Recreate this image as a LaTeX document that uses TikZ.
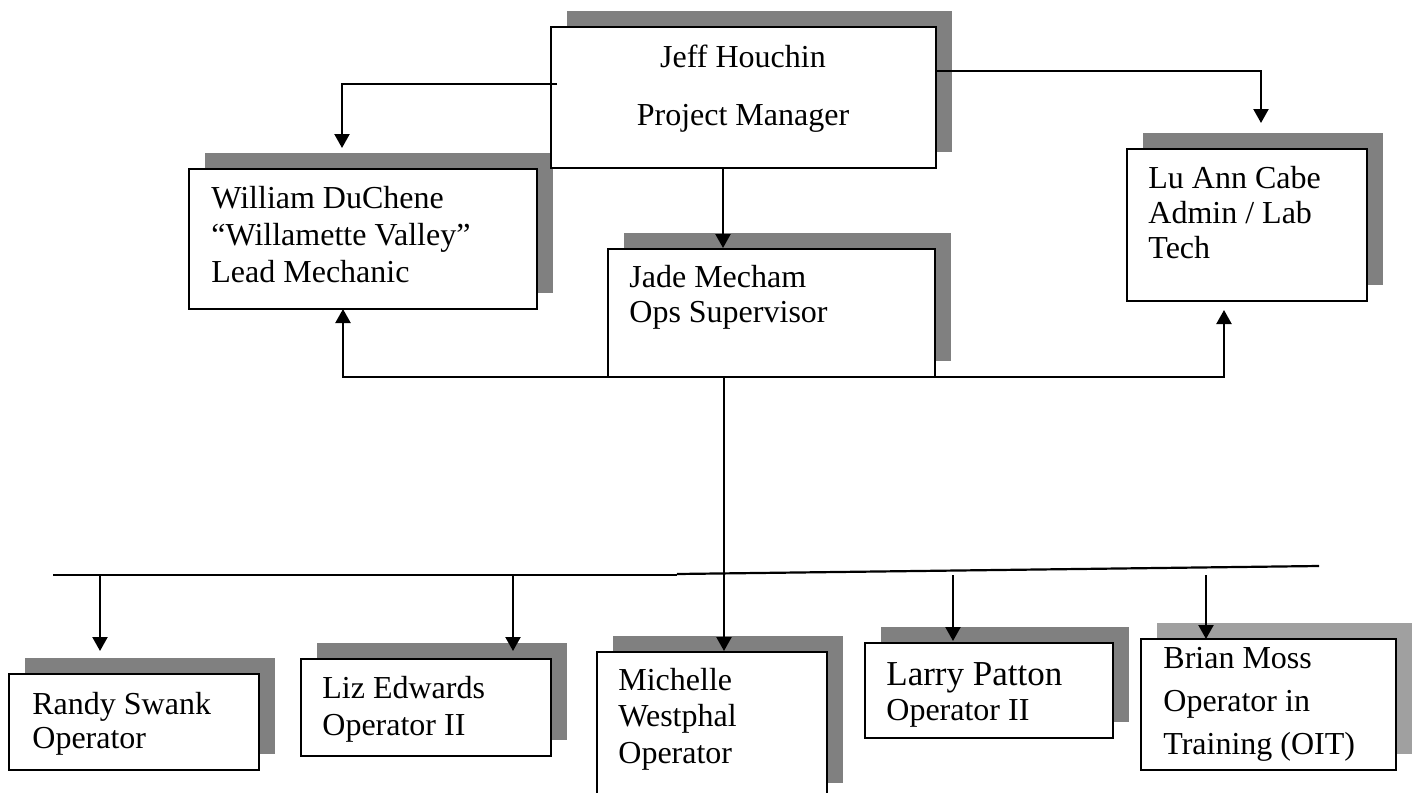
\documentclass[tikz,border=0pt]{standalone}
\usepackage{fontspec}
\setmainfont{Liberation Serif}
\usetikzlibrary{shadows,fit,arrows.meta}
\definecolor{shadowgray}{HTML}{808080}
\definecolor{lightshadow}{HTML}{A0A0A0}
\tikzset{
  box/.style={draw=black, line width=1.2pt, fill=white, inner sep=0pt,
    drop shadow={shadow xshift=8pt, shadow yshift=8pt, fill=shadowgray, opacity=1}},
  lightbox/.style={draw=black, line width=1.2pt, fill=white, inner sep=0pt,
    drop shadow={shadow xshift=8pt, shadow yshift=8pt, fill=lightshadow, opacity=1}},
  conn/.style={draw=black, line width=1.1pt},
  arr/.style={conn, -{Triangle[length=7pt,width=7.5pt]}},
  txt/.style={inner sep=0pt, anchor=base west, text width=160pt, align=flush left},
  ctxt/.style={inner sep=0pt, anchor=base},
}
\begin{document}
\begin{tikzpicture}[x=0.5pt, y=-0.5pt]
\useasboundingbox (0,0) rectangle (1415,793);
% boxes
\node[box, fit={(189,169) (537,309)}] (william) {};
\node[box, fit={(551,27) (936,168)}] (jeff) {};
\node[box, fit={(1127,149) (1367,301)}] (luann) {};
\node[box, fit={(608,249) (935,377)}] (jade) {};
\node[box, fit={(9,674) (259,770)}] (randy) {};
\node[box, fit={(301,659) (551,756)}] (liz) {};
\node[box, fit={(597,652) (827,799)}] (michelle) {};
\node[box, fit={(865,643) (1113,738)}] (larry) {};
\node[lightbox, fit={(1141,639) (1396,770)}] (brian) {};
% texts
\node[ctxt, font={\fontsize{16}{18}\selectfont}] (jeff1) at (743,67) {Jeff Houchin};
\node[ctxt, font={\fontsize{16}{18}\selectfont}] (jeff2) at (743,125) {Project Manager};
\node[txt, font={\fontsize{16}{18.5}\selectfont}] (williamt) at (211,208) {William DuChene\\“Willamette Valley”\\Lead Mechanic};
\node[txt, font={\fontsize{16}{17.5}\selectfont}] (luannt) at (1148,188) {Lu Ann Cabe\\Admin / Lab\\Tech};
\node[txt, font={\fontsize{16}{17.5}\selectfont}] (jadet) at (629,287) {Jade Mecham\\Ops Supervisor};
\node[txt, font={\fontsize{16}{17}\selectfont}] (randyt) at (32,714) {Randy Swank\\Operator};
\node[txt, font={\fontsize{16}{18.5}\selectfont}] (lizt) at (322,698) {Liz Edwards\\Operator II};
\node[txt, font={\fontsize{16}{18.25}\selectfont}] (michellet) at (618,690) {Michelle\\Westphal\\Operator};
\node[txt, font={\fontsize{17.5}{18}\selectfont}] (larryt1) at (886,685) {Larry Patton};
\node[txt, font={\fontsize{16}{18}\selectfont}] (larryt2) at (886,720) {Operator II};
\node[txt, font={\fontsize{16}{21.5}\selectfont}] (briant) at (1163,668) {Brian Moss\\Operator in\\Training (OIT)};
% connector points
\coordinate (jw0) at (557,84);
\coordinate (jwtip) at (342,148);
\coordinate (jltip) at (1261,123);
\coordinate (jjtop) at (723,168);
\coordinate (jjtip) at (723,248);
\coordinate (jbus) at (724,377);
\coordinate (wtip) at (343,309);
\coordinate (ltip) at (1224,310);
\coordinate (mtip) at (724,651);
\coordinate (busL) at (53,575);
\coordinate (busM) at (677,575);
\coordinate (busM2) at (677,574);
\coordinate (busR) at (1319,566);
\coordinate (r0) at (100,575);
\coordinate (rtip) at (100,651);
\coordinate (z0) at (513,575);
\coordinate (ztip) at (513,651);
\coordinate (p0) at (953,575);
\coordinate (ptip) at (953,641);
\coordinate (b0) at (1206,575);
\coordinate (btip) at (1206,639);
% connectors
\draw[arr] (jw0) -| (jwtip);
\draw[arr] (jeff.east |- 0,71) -| (jltip);
\draw[arr] (jjtop) -- (jjtip);
\draw[arr] (jbus) -| (wtip);
\draw[arr] (jbus) -| (ltip);
\draw[arr] (jbus) -- (mtip);
\draw[conn] (busL) -- (busM);
\draw[conn] (busM2) -- (busR);
\draw[arr] (r0) -- (rtip);
\draw[arr] (z0) -- (ztip);
\draw[arr] (p0) -- (ptip);
\draw[arr] (b0) -- (btip);
\end{tikzpicture}
\end{document}
